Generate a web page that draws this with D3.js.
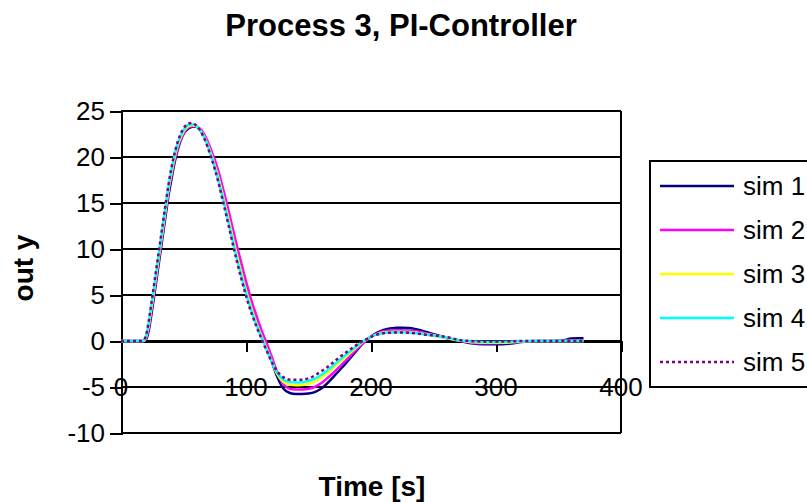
<!DOCTYPE html>
<html>
<head>
<meta charset="utf-8">
<script src="https://cdn.jsdelivr.net/npm/d3@7"></script>
<style>
  html, body { margin: 0; padding: 0; background: #ffffff; }
  svg { display: block; font-family: Arial, "Liberation Sans", sans-serif; }
</style>
</head>
<body>
<svg id="chart" width="807" height="502"></svg>
<script>
const chartTitle = "Process 3, PI-Controller";
const xTitle = "Time [s]";
const yTitle = "out y";
const xTicks = [0, 100, 200, 300, 400];
const yTicks = [-10, -5, 0, 5, 10, 15, 20, 25];
const seriesNames = ["sim 1", "sim 2", "sim 3", "sim 4", "sim 5"];

const time = [0, 10, 16, 18, 20, 22, 24, 26, 28, 30, 32, 34, 36, 38, 40, 42,
  45, 48, 51, 54, 57, 60, 63, 66, 69, 72, 75, 78, 81, 84, 87, 90, 93, 96, 99, 102, 105, 108, 111, 114, 117, 120,
  125, 130, 135, 140, 145, 150, 155, 160, 165, 170, 175, 180, 185, 190, 195, 200, 205, 210, 215, 220, 225, 230,
  235, 240, 245, 250, 255, 260, 265, 270, 280, 290, 300, 310, 320, 330, 340, 350, 355, 360, 365, 370];

const sim1 = [0, 0, 0, 0, 0.15, 1.0, 2.6, 4.4, 6.3, 8.2, 10.1, 12.0, 13.9, 15.8, 17.3, 18.8,
  20.6, 21.9, 22.7, 23.1, 23.3, 23.3, 23.0, 22.4, 21.5, 20.4, 19.2, 17.8, 16.2, 14.5, 12.8, 11.0, 9.3, 7.7, 6.1, 4.7, 3.4, 2.2, 1.1, 0.1, -0.9, -2.0,
  -3.9, -5.2, -5.65, -5.75, -5.75, -5.7, -5.55, -5.2, -4.6, -3.9, -3.15, -2.4, -1.6, -0.8, -0.05, 0.5, 0.9, 1.2, 1.37, 1.43, 1.45, 1.42,
  1.32, 1.15, 0.95, 0.75, 0.55, 0.35, 0.18, 0.05, -0.25, -0.36, -0.36, -0.3, -0.12, -0.02, 0.0, 0.02, 0.1, 0.28, 0.3, 0.3];

const sim2 = [0, 0, 0, 0, 0.3, 1.3, 3.0, 4.8, 6.7, 8.6, 10.5, 12.4, 14.3, 16.2, 17.7, 19.1,
  20.8, 22.0, 22.8, 23.2, 23.35, 23.35, 23.1, 22.6, 21.8, 20.8, 19.7, 18.4, 16.9, 15.3, 13.6, 11.9, 10.2, 8.6, 7.0, 5.5, 4.1, 2.9, 1.7, 0.6, -0.4, -1.5,
  -3.4, -4.7, -5.2, -5.28, -5.27, -5.2, -5.0, -4.6, -4.05, -3.45, -2.8, -2.1, -1.4, -0.7, -0.05, 0.45, 0.8, 1.05, 1.13, 1.17, 1.17, 1.15,
  1.08, 0.95, 0.8, 0.65, 0.48, 0.32, 0.18, 0.05, -0.18, -0.25, -0.25, -0.2, -0.08, 0.0, 0, 0, 0, 0.05, 0.05, 0.05];

const sim3 = [0, 0, 0, 0, 0.4, 1.6, 3.3, 5.1, 7.0, 8.9, 10.8, 12.7, 14.6, 16.5, 18.0, 19.4,
  21.1, 22.2, 22.95, 23.35, 23.45, 23.35, 22.95, 22.35, 21.45, 20.35, 19.1, 17.7, 16.1, 14.4, 12.7, 10.9, 9.2, 7.6, 6.0, 4.6, 3.3, 2.1, 1.0, 0.0, -1.0, -2.0,
  -3.6, -4.45, -4.75, -4.8, -4.78, -4.65, -4.4, -4.0, -3.5, -2.9, -2.3, -1.7, -1.1, -0.5, 0.05, 0.45, 0.75, 0.92, 0.98, 1.0, 1.0, 0.98,
  0.92, 0.82, 0.7, 0.6, 0.48, 0.35, 0.2, 0.07, -0.12, -0.2, -0.2, -0.15, -0.05, 0, 0, 0, 0, 0, 0, 0];

const sim4 = [0, 0, 0, 0.05, 0.5, 1.8, 3.6, 5.4, 7.3, 9.2, 11.1, 13.0, 14.9, 16.7, 18.3, 19.7,
  21.3, 22.4, 23.1, 23.5, 23.55, 23.4, 22.95, 22.3, 21.35, 20.2, 18.9, 17.4, 15.8, 14.1, 12.3, 10.5, 8.8, 7.2, 5.7, 4.3, 3.0, 1.9, 0.85, -0.15, -1.1, -2.05,
  -3.45, -4.2, -4.45, -4.5, -4.48, -4.35, -4.1, -3.7, -3.2, -2.65, -2.05, -1.5, -0.95, -0.4, 0.08, 0.45, 0.72, 0.88, 0.93, 0.95, 0.95, 0.93,
  0.88, 0.78, 0.68, 0.6, 0.5, 0.38, 0.24, 0.1, -0.05, -0.1, -0.1, -0.08, -0.02, 0, 0, 0, 0, 0, 0, 0];

const sim5 = [0, 0, 0, 0.1, 0.6, 2.0, 3.8, 5.7, 7.6, 9.5, 11.4, 13.3, 15.2, 17.0, 18.6, 19.9,
  21.5, 22.6, 23.3, 23.65, 23.7, 23.45, 22.95, 22.2, 21.2, 20.0, 18.7, 17.2, 15.5, 13.8, 12.0, 10.2, 8.5, 6.9, 5.4, 4.0, 2.8, 1.7, 0.7, -0.3, -1.2, -2.1,
  -3.3, -3.95, -4.2, -4.22, -4.2, -4.05, -3.75, -3.3, -2.85, -2.3, -1.75, -1.25, -0.75, -0.3, 0.1, 0.45, 0.7, 0.85, 0.9, 0.92, 0.92, 0.9,
  0.85, 0.75, 0.65, 0.6, 0.55, 0.45, 0.3, 0.12, 0.0, -0.05, -0.05, -0.03, 0, 0, 0, 0, 0, 0, 0, 0];

const seriesValues = [sim1, sim2, sim3, sim4, sim5];
const seriesColors = ["#000080", "#FF00FF", "#FFFF00", "#00FFFF", "#800080"];
const seriesDash = [null, null, null, null, "3,3"];

const svg = d3.select("#chart");
const W = 807, H = 502;
svg.append("rect").attr("width", W).attr("height", H).attr("fill", "#fff");

const pLeft = 121, pRight = 621, pTop = 111, pBottom = 433;
const x = d3.scaleLinear().domain([0, 400]).range([pLeft, pRight]);
const y = d3.scaleLinear().domain([-10, 25]).range([pBottom, pTop]);
const fmt = d => String(d);

// title
svg.append("text").attr("x", 401).attr("y", 36).attr("text-anchor", "middle")
  .attr("font-size", 31).attr("font-weight", "bold").text(chartTitle);

// gridlines
svg.append("g").selectAll("line").data(yTicks).join("line")
  .attr("x1", pLeft).attr("x2", pRight)
  .attr("y1", d => y(d)).attr("y2", d => y(d))
  .attr("stroke", "#000").attr("stroke-width", 2).attr("shape-rendering", "crispEdges");

// right border
svg.append("line").attr("x1", pRight).attr("x2", pRight).attr("y1", pTop).attr("y2", pBottom)
  .attr("stroke", "#000").attr("stroke-width", 2).attr("shape-rendering", "crispEdges");

// y axis
const yAxis = d3.axisLeft(y).tickValues(yTicks).tickSize(11).tickPadding(5).tickFormat(fmt);
const yg = svg.append("g").attr("transform", `translate(${pLeft},0)`).call(yAxis);
yg.select(".domain").attr("stroke-width", 2).attr("shape-rendering", "crispEdges");
yg.selectAll(".tick line").attr("stroke-width", 2).attr("shape-rendering", "crispEdges");
yg.selectAll(".tick text").attr("font-size", 26).attr("font-family", "Arial, 'Liberation Sans', sans-serif").attr("fill", "#000");

// x axis line at y=0 with ticks
const xAxis = d3.axisBottom(x).tickValues(xTicks).tickSize(11).tickFormat("");
const xg = svg.append("g").attr("transform", `translate(0,${y(0)})`).call(xAxis);
xg.select(".domain").attr("stroke-width", 2).attr("shape-rendering", "crispEdges");
xg.selectAll(".tick line").attr("stroke-width", 2).attr("shape-rendering", "crispEdges");

// series
const line = d3.line().x((d, i) => x(time[i])).y(d => y(d)).curve(d3.curveMonotoneX);
seriesValues.forEach((vals, k) => {
  svg.append("path").datum(vals).attr("d", line)
    .attr("fill", "none").attr("stroke", seriesColors[k]).attr("stroke-width", 2.5)
    .attr("stroke-dasharray", seriesDash[k]);
});

// x tick labels (drawn at the -5 level like the reference)
svg.append("g").selectAll("text").data(xTicks).join("text")
  .attr("x", d => x(d)).attr("y", y(-5)).attr("dy", "0.35em")
  .attr("text-anchor", "middle").attr("font-size", 26).text(fmt);

// axis titles
svg.append("text").attr("x", 372).attr("y", 496).attr("text-anchor", "middle")
  .attr("font-size", 28).attr("font-weight", "bold").text(xTitle);
svg.append("text").attr("transform", "translate(33,268) rotate(-90)")
  .attr("text-anchor", "middle").attr("font-size", 28).attr("font-weight", "bold").text(yTitle);

// legend
const lg = svg.append("g");
lg.append("rect").attr("x", 650).attr("y", 161).attr("width", 200).attr("height", 226)
  .attr("fill", "#fff").attr("stroke", "#000").attr("stroke-width", 2).attr("shape-rendering", "crispEdges");
seriesNames.forEach((name, k) => {
  const ly = 186 + k * 44;
  lg.append("line").attr("x1", 660).attr("x2", 734).attr("y1", ly).attr("y2", ly)
    .attr("stroke", seriesColors[k]).attr("stroke-width", 2.5).attr("stroke-dasharray", seriesDash[k]);
  lg.append("text").attr("x", 743).attr("y", ly).attr("dy", "0.35em")
    .attr("font-size", 26).text(name);
});
</script>
</body>
</html>
